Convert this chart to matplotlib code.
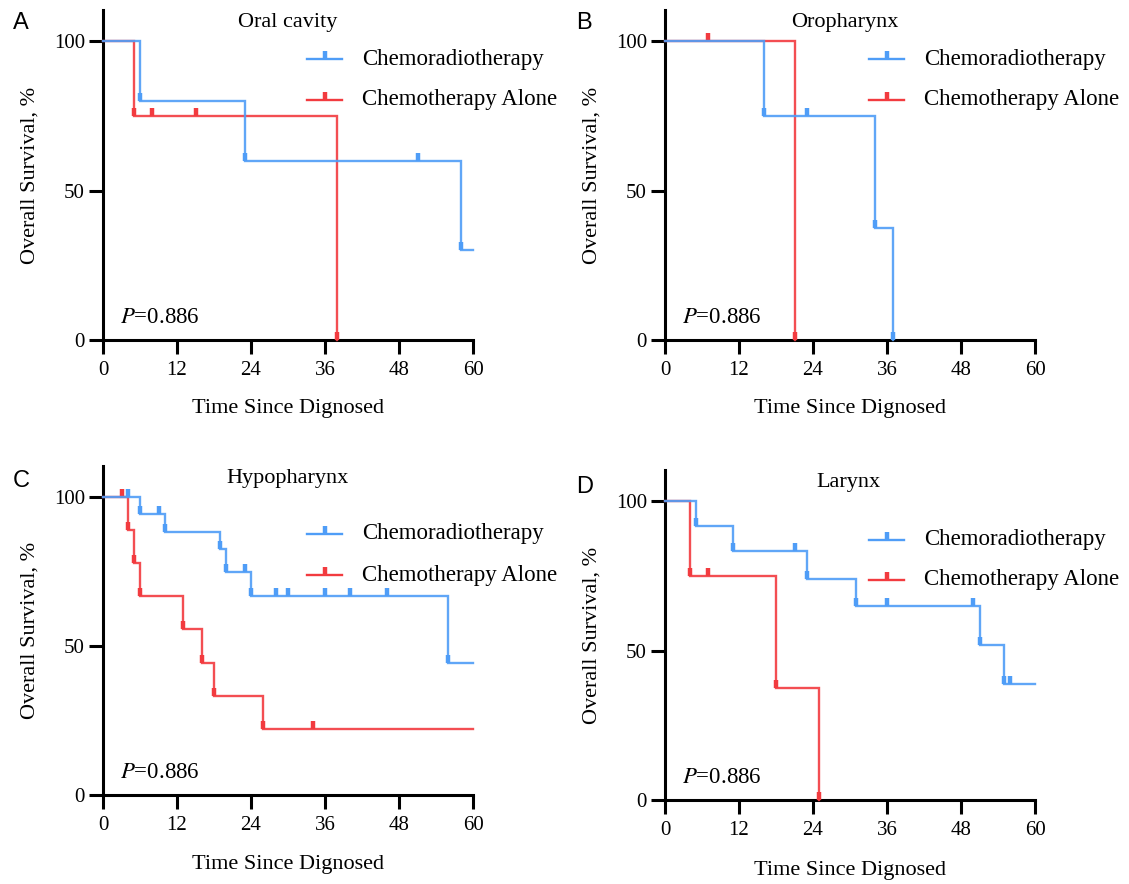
import matplotlib
matplotlib.use("Agg")
import matplotlib.pyplot as plt
from matplotlib.path import Path
from matplotlib.lines import Line2D

plt.rcParams['font.family'] = ['Liberation Serif', 'DejaVu Serif']
plt.rcParams['mathtext.fontset'] = 'stix'

W, H = 1129, 884
BLUE = '#4F9DF7'
RED = '#F23B3F'

# ---- data (months, survival %) ----
titles = ["Oral cavity", "Oropharynx", "Hypopharynx", "Larynx"]
letters = ["A", "B", "C", "D"]
series_labels = ["Chemoradiotherapy", "Chemotherapy Alone"]
p_text = "0.886"
x_ticks = [0, 12, 24, 36, 48, 60]
y_ticks = [0, 50, 100]

a_crt_t = [6, 23, 51, 58]
a_crt_s = [80, 60, 60, 30]
a_crt_end = 60
a_ct_t = [5, 8, 15, 38]
a_ct_s = [75, 75, 75, 0]
a_ct_end = 38

b_crt_t = [16, 23, 34, 37]
b_crt_s = [75, 75, 37.5, 0]
b_crt_end = 37
b_ct_t = [7, 21]
b_ct_s = [100, 0]
b_ct_end = 21

c_crt_t = [4, 6, 9, 10, 19, 20, 23, 24, 28, 30, 36, 40, 46, 56]
c_crt_s = [100, 94.4, 94.4, 88.5, 82.6, 75, 75, 66.7, 66.7, 66.7, 66.7, 66.7, 66.7, 44.4]
c_crt_end = 60
c_ct_t = [3, 4, 5, 6, 13, 16, 18, 26, 34]
c_ct_s = [100, 88.9, 77.8, 66.7, 55.6, 44.4, 33.3, 22.2, 22.2]
c_ct_end = 60

d_crt_t = [5, 11, 21, 23, 31, 36, 50, 51, 55, 56]
d_crt_s = [91.7, 83.3, 83.3, 74.1, 64.9, 64.9, 64.9, 51.9, 38.9, 38.9]
d_crt_end = 60
d_ct_t = [4, 7, 18, 25]
d_ct_s = [75, 75, 37.5, 0]
d_ct_end = 25

panels = [
    (a_crt_t, a_crt_s, a_crt_end, a_ct_t, a_ct_s, a_ct_end),
    (b_crt_t, b_crt_s, b_crt_end, b_ct_t, b_ct_s, b_ct_end),
    (c_crt_t, c_crt_s, c_crt_end, c_ct_t, c_ct_s, c_ct_end),
    (d_crt_t, d_crt_s, d_crt_end, d_ct_t, d_ct_s, d_ct_end),
]

# ---- layout (pixels) ----
boxes = [(103, 473, 10, 340), (665, 1035, 10, 340),
         (103, 473, 466, 795), (665, 1035, 470, 800)]
title_x = [288, 845, 287, 848]
letter_pos = [(13, 29), (576, 29), (13, 487), (576, 493)]
legend_rows = [(59, 100), (59, 100), (534, 575), (540, 580)]

tick_marker = Path([(0, 0), (0, 1)], [Path.MOVETO, Path.LINETO])
MS, MEW, LW = 11, 3.2, 1.7

fig = plt.figure(figsize=(W / 100, H / 100), dpi=100)


def fx(px):
    return px / W


def fy(py):
    return 1 - py / H


def km(ax, t, s, end, color, z):
    xs = [0] + list(t) + [end]
    ys = [100] + list(s) + [s[-1]]
    ax.step(xs, ys, where='post', color=color, lw=LW, alpha=0.9, zorder=z,
            clip_on=False, solid_joinstyle='miter')
    ax.plot(t, s, ls='none', marker=tick_marker, ms=MS, mew=MEW,
            color=color, zorder=z + 1, clip_on=False)


for i, (ct, cs, ce, rt, rs, re) in enumerate(panels):
    l, r, top, bot = boxes[i]
    ax = fig.add_axes([fx(l), fy(bot), (r - l) / W, (bot - top) / H])
    km(ax, rt, rs, re, RED, 3)
    km(ax, ct, cs, ce, BLUE, 5)
    ax.set_xlim(0, 60)
    ax.set_ylim(0, 110.5)
    ax.set_xticks(x_ticks)
    ax.set_yticks(y_ticks)
    for sp in ['top', 'right']:
        ax.spines[sp].set_visible(False)
    for sp in ['left', 'bottom']:
        ax.spines[sp].set_linewidth(2.2)
    ax.tick_params(direction='out', length=10, width=2.2, labelsize=15)
    ax.tick_params(axis='x', pad=5)
    ax.tick_params(axis='y', pad=3)
    ax.set_xlabel("Time Since Dignosed", fontsize=16)
    ax.xaxis.label.set_va('center')
    ax.xaxis.set_label_coords(0.5, -69 / (bot - top) if i < 2 else -70 / (bot - top))
    ax.set_ylabel("Overall Survival, %", fontsize=16)
    ax.yaxis.label.set_va('center')
    ax.yaxis.set_label_coords((30 - 103) / (r - l), 0.5)
    ax.text(2.75, 5.8, r"$P$=" + p_text, fontsize=16.5, va='baseline', ha='left')
    fig.text(fx(title_x[i]), fy(top + 17), titles[i], fontsize=16,
             ha='center', va='baseline')
    fig.text(fx(letter_pos[i][0]), fy(letter_pos[i][1]), letters[i],
             family='Liberation Sans', fontsize=17, ha='left', va='baseline')
    r1, r2 = legend_rows[i]
    hx0 = l + 204
    for col, lab, ry in zip((BLUE, RED), series_labels, (r1, r2)):
        fig.add_artist(Line2D([fx(hx0), fx(hx0 + 35)], [fy(ry), fy(ry)],
                              color=col, lw=LW))
        fig.add_artist(Line2D([fx(hx0 + 17.5)], [fy(ry)], color=col,
                              ls='none', marker=tick_marker, ms=MS, mew=MEW))
        fig.text(fx(hx0 + 55), fy(ry), lab, fontsize=16.5, ha='left', va='center')

fig.savefig("out.png", dpi=100)
